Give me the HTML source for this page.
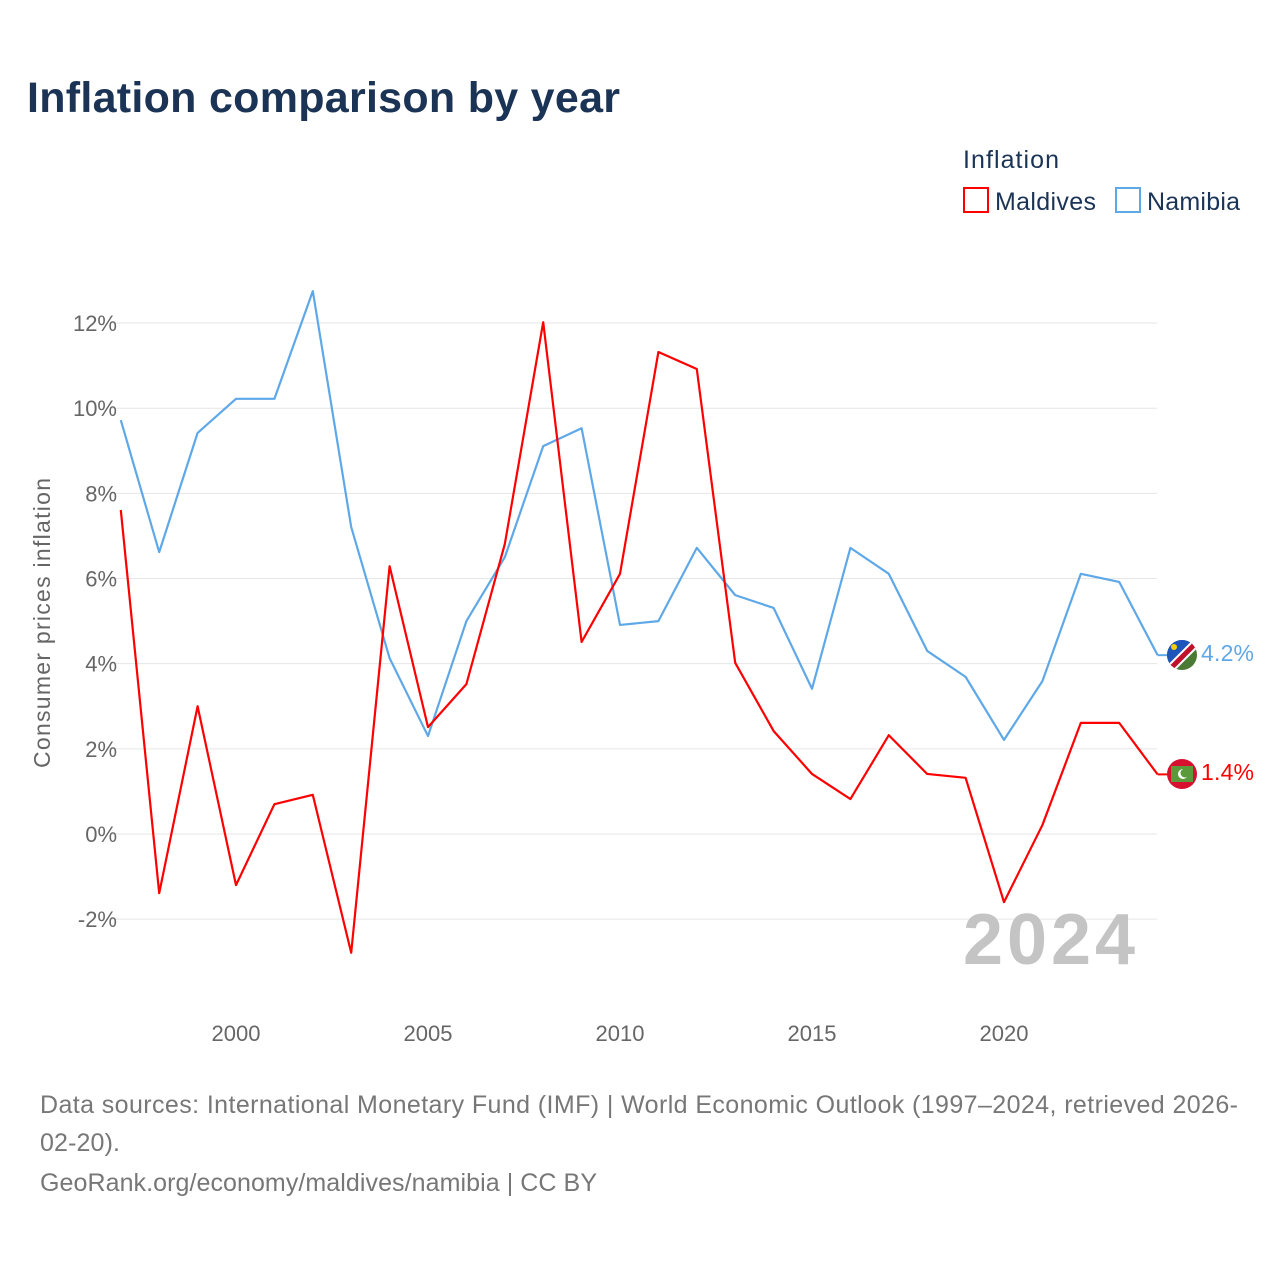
<!DOCTYPE html>
<html><head><meta charset="utf-8"><style>
body{margin:0;background:#fff;font-family:"Liberation Sans",sans-serif;}
svg text{font-family:"Liberation Sans",sans-serif;}
</style></head><body>
<svg width="1280" height="1280" xmlns="http://www.w3.org/2000/svg" id="chart">
<text x="27" y="112" font-size="43" font-weight="bold" fill="#1b3354" textLength="593">Inflation comparison by year</text>
<text x="963" y="168" font-size="25" fill="#1b3354" textLength="96">Inflation</text>
<g><rect x="964" y="188" width="24" height="24" fill="none" stroke="#ff0000" stroke-width="2"/><text x="995" y="210" font-size="25" fill="#1b3354" textLength="101">Maldives</text></g>
<g><rect x="1116" y="188" width="24" height="24" fill="none" stroke="#5fa8e8" stroke-width="2"/><text x="1147" y="210" font-size="25" fill="#1b3354" textLength="93">Namibia</text></g>
<g id="grid"></g><g id="yticks"></g><g id="xticks"></g>
<text transform="translate(50,623) rotate(-90)" text-anchor="middle" font-size="23" fill="#666" textLength="290">Consumer prices inflation</text>
<text x="1135" y="964" text-anchor="end" font-size="72" font-weight="bold" fill="#c4c4c4" textLength="172">2024</text>
<g id="series"></g>
<g>
<clipPath id="cn"><circle cx="1182" cy="655" r="15"/></clipPath>
<g clip-path="url(#cn)"><rect x="1167" y="640" width="30" height="30" fill="#4a7a33"/><polygon points="1167,640 1197,640 1167,670" fill="#1d56b8"/><line x1="1167" y1="672" x2="1199" y2="640" stroke="#fff" stroke-width="9"/><line x1="1167" y1="672" x2="1199" y2="640" stroke="#c0102a" stroke-width="5"/><circle cx="1174" cy="647" r="3" fill="#ffce00"/></g></g>
<g>
<circle cx="1182" cy="774" r="15" fill="#d6102e"/><rect x="1171" y="766" width="22" height="16" fill="#5a9a3a"/><circle cx="1183" cy="774" r="5" fill="#fff"/><circle cx="1185" cy="773" r="4.5" fill="#5a9a3a"/></g>
<text x="1201" y="661" font-size="23" fill="#5fa8e8" textLength="53">4.2%</text>
<text x="1201" y="780" font-size="23" fill="#ff0000" textLength="53">1.4%</text>
<text x="40" y="1113" font-size="25" fill="#777" textLength="1198">Data sources: International Monetary Fund (IMF) | World Economic Outlook (1997–2024, retrieved 2026-</text>
<text x="40" y="1151" font-size="25" fill="#777" textLength="80">02-20).</text>
<text x="40" y="1191" font-size="25" fill="#777" textLength="557">GeoRank.org/economy/maldives/namibia | CC BY</text>
</svg>
<script>
const years=[1997,1998,1999,2000,2001,2002,2003,2004,2005,2006,2007,2008,2009,2010,2011,2012,2013,2014,2015,2016,2017,2018,2019,2020,2021,2022,2023,2024];
const namibia=[9.72,6.62,9.42,10.22,10.22,12.75,7.21,4.13,2.3,5.0,6.5,9.11,9.53,4.91,5.0,6.72,5.61,5.31,3.41,6.72,6.11,4.3,3.69,2.21,3.59,6.11,5.92,4.2];
const maldives=[7.61,-1.39,3.0,-1.2,0.7,0.92,-2.79,6.29,2.51,3.52,6.81,12.02,4.51,6.11,11.32,10.92,4.02,2.42,1.41,0.82,2.32,1.41,1.32,-1.6,0.21,2.61,2.61,1.4];
const yTicks=[-2,0,2,4,6,8,10,12];
const xTicks=[2000,2005,2010,2015,2020];
const NS="http://www.w3.org/2000/svg";
const xs=y=>120.8+(y-1997)*38.4;
const ys=v=>834-v*42.58;
function mk(t,a,p){const e=document.createElementNS(NS,t);for(const k in a)e.setAttribute(k,a[k]);document.getElementById(p).appendChild(e);return e;}
yTicks.forEach(v=>{
 const l=mk('line',{x1:112,x2:1157,y1:ys(v),y2:ys(v),stroke:'#e6e6e6','stroke-width':1},'grid');
 
 
 const t=mk('text',{x:117,y:ys(v)+8,'text-anchor':'end','font-size':22,fill:'#666'},'yticks');
 t.textContent=v+'%';
 
 
});
xTicks.forEach(y=>{
 const t=mk('text',{x:xs(y),y:1041,'text-anchor':'middle','font-size':22,fill:'#666'},'xticks');
 t.textContent=y;
 
 
});
function line(arr,c,n){
 const p=mk('polyline',{points:arr.map((v,i)=>xs(years[i])+','+ys(v)).join(' '),fill:'none',stroke:c,'stroke-width':2.2,'stroke-linejoin':'round'},'series');
 
 
 const last=arr[arr.length-1];
 const s=mk('line',{x1:xs(2024),x2:xs(2024)+10,y1:ys(last),y2:ys(last),stroke:c,'stroke-width':2},'series');
 
 
}
line(namibia,'#5fa8e8','namibia-line');
line(maldives,'#ff0000','maldives-line');
</script>
</body></html>
